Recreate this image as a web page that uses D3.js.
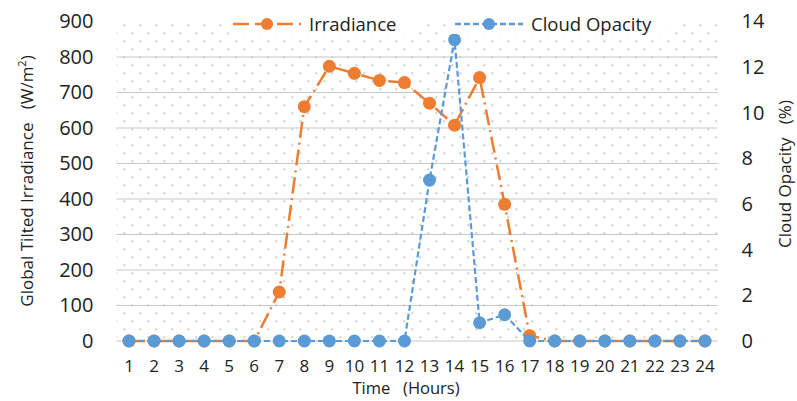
<!DOCTYPE html>
<html lang="en">
<head>
    <meta charset="UTF-8">
    <title>Irradiance and Cloud Opacity</title>
    <script src="https://d3js.org/d3.v7.min.js"></script>
    <style>
        body { margin: 0; background: white; }
        text { font-family: "Open Sans", sans-serif; fill: #222; }
    </style>
</head>
<body>
    <script>
        // data
        const hours = d3.range(1, 25);
        const irradiance = [0, 0, 0, 0, 0, 0, 138, 660, 774, 754, 734, 728, 670, 608, 742, 385, 15, 0, 0, 0, 0, 0, 0, 0];
        const cloudOpacity = [0, 0, 0, 0, 0, 0, 0, 0, 0, 0, 0, 0, 7.05, 13.2, 0.8, 1.15, 0, 0, 0, 0, 0, 0, 0, 0];
        const leftTicks = [0, 100, 200, 300, 400, 500, 600, 700, 800, 900];
        const rightTicks = [0, 2, 4, 6, 8, 10, 12, 14];

        const width = 797, height = 401;
        const plotL = 116.5, plotR = 717.5, plotT = 21.5, plotB = 341;
        const orange = '#ED7D31', blue = '#5B9BD5';

        const svg = d3.select('body').append('svg')
            .attr('width', width).attr('height', height);

        // dotted background pattern
        const pat = svg.append('defs').append('pattern')
            .attr('id', 'dots').attr('patternUnits', 'userSpaceOnUse')
            .attr('width', 16).attr('height', 16)
            .attr('x', plotL + 7).attr('y', plotT + 3);
        pat.append('rect').attr('x', 0).attr('y', 0).attr('width', 1.4).attr('height', 1.4).attr('fill', '#999');
        pat.append('rect').attr('x', 8).attr('y', 8).attr('width', 1.4).attr('height', 1.4).attr('fill', '#999');

        svg.append('rect')
            .attr('x', plotL).attr('y', plotT + 1)
            .attr('width', plotR - plotL).attr('height', plotB - plotT)
            .attr('fill', 'url(#dots)');

        const x = d3.scaleBand().domain(hours).range([plotL, plotR]);
        const yL = d3.scaleLinear().domain([0, 900]).range([plotB, plotT]);
        const yR = d3.scaleLinear().domain([0, 14]).range([plotB, plotT]);

        // gridlines
        svg.append('g')
            .selectAll('line')
            .data(leftTicks.filter(d => d < 900))
            .enter().append('line')
            .attr('x1', plotL).attr('x2', plotR)
            .attr('y1', d => yL(d)).attr('y2', d => yL(d))
            .attr('stroke', '#c8c8c8').attr('stroke-width', 1.2);

        // left axis
        svg.append('g')
            .attr('transform', 'translate(' + (plotL - 23) + ',0)')
            .call(d3.axisLeft(yL).tickValues(leftTicks).tickSize(0).tickPadding(0))
            .call(g => g.select('.domain').remove())
            .call(g => g.selectAll('text').style('font-size', '20px').attr('fill', '#222'));

        // right axis
        svg.append('g')
            .attr('transform', 'translate(' + (plotR + 24) + ',0)')
            .call(d3.axisRight(yR).tickValues(rightTicks).tickSize(0).tickPadding(0))
            .call(g => g.select('.domain').remove())
            .call(g => g.selectAll('text').style('font-size', '20px').attr('fill', '#222'));

        // bottom axis
        svg.append('g')
            .attr('transform', 'translate(0,' + (plotB + 31) + ')')
            .call(d3.axisBottom(x).tickSize(0).tickPadding(0))
            .call(g => g.select('.domain').remove())
            .call(g => g.selectAll('text').style('font-size', '17px').attr('fill', '#222').attr('dy', 0));

        // axis titles
        svg.append('text')
            .attr('transform', 'translate(33,181) rotate(-90)')
            .attr('text-anchor', 'middle')
            .style('font-size', '17px')
            .html('Global Tilted Irradiance&#160;&#160;&#160;(W/m<tspan dy="-7" font-size="11">2</tspan><tspan dy="7">)</tspan>');

        svg.append('text')
            .attr('transform', 'translate(791,174) rotate(-90)')
            .attr('text-anchor', 'middle')
            .style('font-size', '17px')
            .text('Cloud Opacity\u00a0\u00a0\u00a0(%)');

        svg.append('text')
            .attr('x', 406).attr('y', 394)
            .attr('text-anchor', 'middle')
            .style('font-size', '16.5px')
            .text('Time\u00a0\u00a0\u00a0(Hours)');

        // series
        const irrData = hours.map((h, i) => ({ h: h, v: irradiance[i] }));
        const cloudData = hours.map((h, i) => ({ h: h, v: cloudOpacity[i] }));
        const cx = d => x(d.h) + x.bandwidth() / 2;

        svg.append('path')
            .datum(irrData)
            .attr('fill', 'none').attr('stroke', orange).attr('stroke-width', 2.5)
            .attr('stroke-dasharray', '16,5,2,5')
            .attr('d', d3.line().x(cx).y(d => yL(d.v)));

        svg.append('g').selectAll('circle')
            .data(irrData).enter().append('circle')
            .attr('cx', cx).attr('cy', d => yL(d.v)).attr('r', 6.5)
            .attr('fill', orange);

        svg.append('path')
            .datum(cloudData)
            .attr('fill', 'none').attr('stroke', blue).attr('stroke-width', 2.2)
            .attr('stroke-dasharray', '6,3')
            .attr('d', d3.line().x(cx).y(d => yR(d.v)));

        svg.append('g').selectAll('circle')
            .data(cloudData).enter().append('circle')
            .attr('cx', cx).attr('cy', d => yR(d.v)).attr('r', 6.5)
            .attr('fill', blue);

        // legend
        const legend = [
            { name: 'Irradiance', color: orange, dash: '16,6', x: 233 },
            { name: 'Cloud Opacity', color: blue, dash: '6,3', x: 455 }
        ];
        const lg = svg.append('g').selectAll('g')
            .data(legend).enter().append('g')
            .attr('transform', d => 'translate(' + d.x + ',24)');
        lg.append('rect')
            .attr('x', -4).attr('y', -12).attr('width', d => d.name.length * 10 + 88).attr('height', 22)
            .attr('fill', 'white');
        lg.append('line')
            .attr('x1', 0).attr('x2', 68).attr('y1', 0).attr('y2', 0)
            .attr('stroke', d => d.color).attr('stroke-width', 2.5)
            .attr('stroke-dasharray', d => d.dash);
        lg.append('circle')
            .attr('cx', 34).attr('cy', 0).attr('r', 6)
            .attr('fill', d => d.color);
        lg.append('text')
            .attr('x', 76).attr('y', 6.5)
            .style('font-size', '18.5px')
            .text(d => d.name);
    </script>
</body>
</html>
